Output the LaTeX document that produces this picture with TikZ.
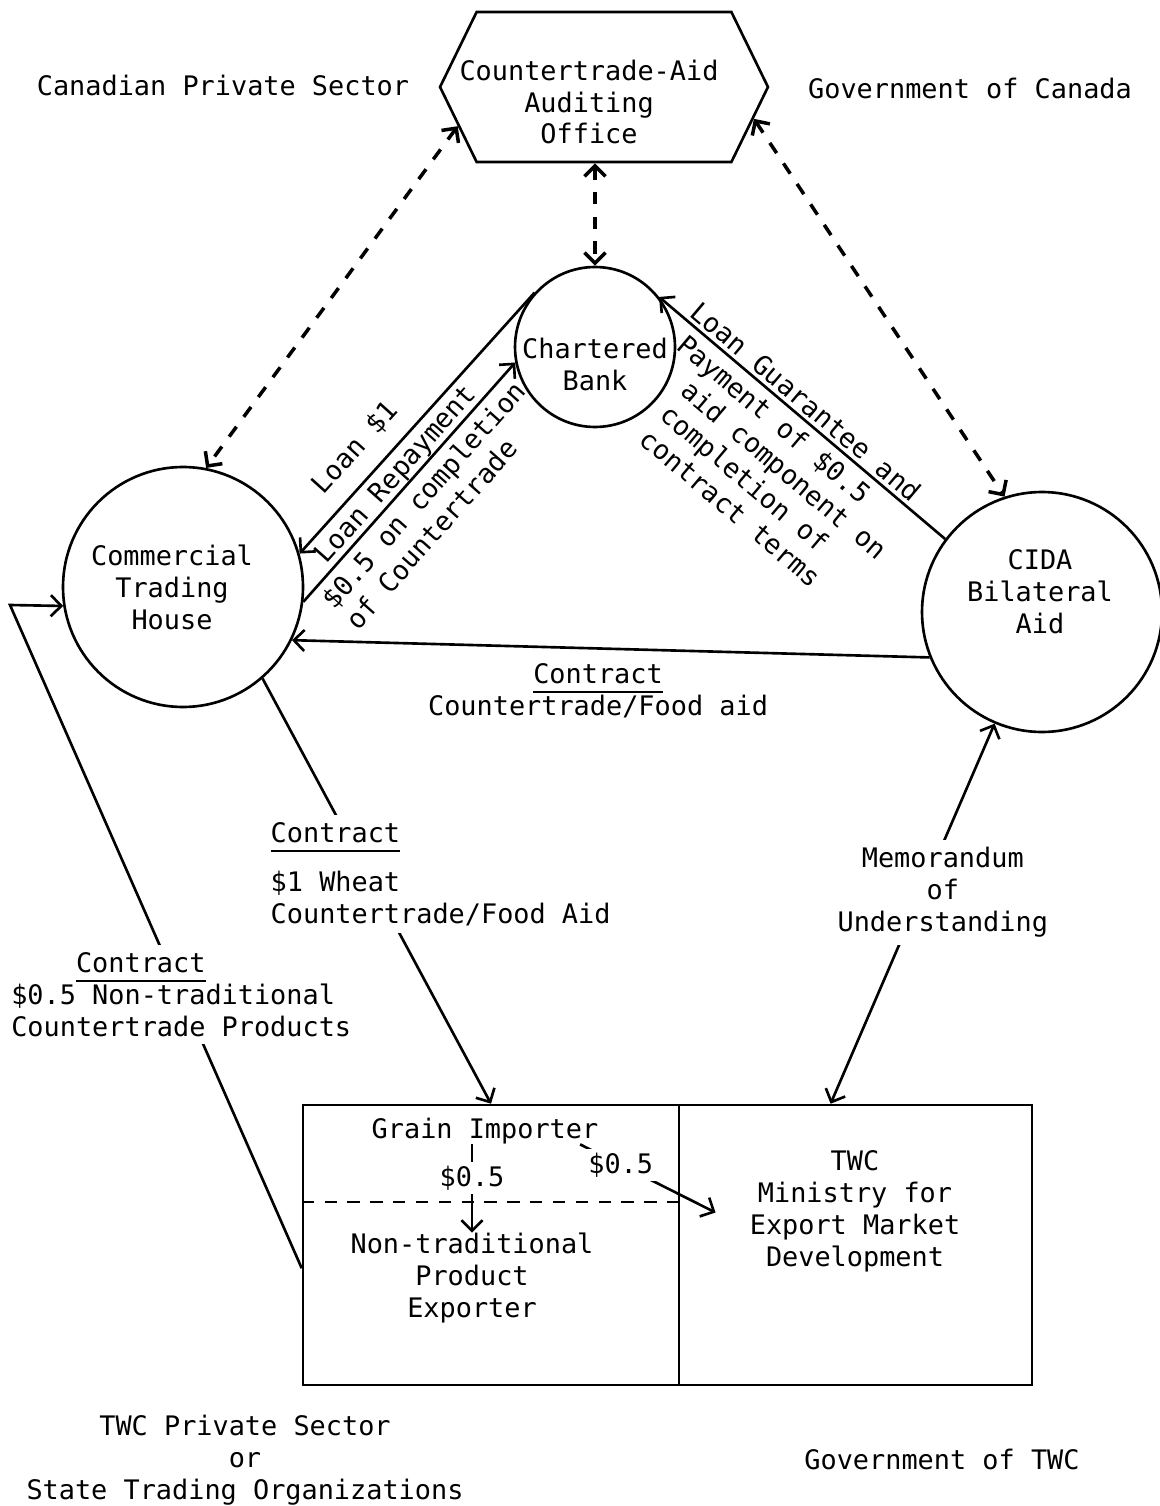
\documentclass[tikz,border=0pt]{standalone}
\usepackage{fontspec}
\setmainfont{DejaVu Sans Mono}
\usetikzlibrary{arrows.meta}
\usetikzlibrary{shapes.symbols}
\usetikzlibrary{calc}
\newcommand\undl[1]{\leavevmode\vtop{\hbox{#1}\kern4pt\hrule height 1.2pt}}
\tikzset{
  txt/.style={font=\fontsize{15.3}{18.2}\selectfont,align=center,inner sep=0},
  ln/.style={line width=1.5pt},
  hub/.style={draw,circle,line width=1.5pt,inner sep=0},
  office/.style={draw,line width=1.5pt,shape=signal,signal to=west and east,
    signal pointer angle=128,minimum width=6.56cm,minimum height=3cm,inner sep=0},
  boxcell/.style={draw,line width=1.5pt,minimum height=5.6cm},
  dsh/.style={line width=2pt,dash pattern=on 7pt off 7pt,<->},
  tag/.style={txt,sloped},
  blank/.style={txt,fill=white,inner sep=4pt}
}

\begin{document}
\begin{tikzpicture}[x=0.02cm,y=-0.02cm,>={Straight Barb[length=6pt,width=12pt]}]
    \useasboundingbox (0,0) rectangle (1159,1506);

    \node[office] (office) at (604,87) {};
    \node[txt] (officetxt) at (589,102) {Countertrade-Aid\\Auditing\\Office};
    \node[hub,minimum size=3.2cm] (bank) at (595,347) {};
    \node[txt] (banktxt) at (595,364) {Chartered\\Bank};
    \node[hub,minimum size=4.8cm] (cth) at (183,587) {};
    \node[txt] (cthtxt) at (172,587) {Commercial\\Trading\\House};
    \node[hub,minimum size=4.8cm] (cida) at (1042,612) {};
    \node[txt] (cidatxt) at (1040,592) {CIDA\\Bilateral\\Aid};
    \node[boxcell,minimum width=7.52cm] (tradecell) at (491,1245) {};
    \node[boxcell,minimum width=7.06cm] (govcell) at (855.5,1245) {};

    \node[txt] (cps) at (223,85) {Canadian Private Sector};
    \node[txt] (goc) at (970,88) {Government of Canada};
    \node[txt] (tps) at (245,1460) {TWC Private Sector\\or\\State Trading Organizations};
    \node[txt] (gotwc) at (942,1459) {Government of TWC};

    \node[txt] (grain) at (485,1131) {Grain Importer};
    \node[txt] (exporter) at (472,1278) {Non-traditional\\Product\\Exporter};
    \node[txt] (ministry) at (855,1211) {TWC\\Ministry for\\Export Market\\Development};
    \draw[line width=1.2pt,dash pattern=on 7pt off 6pt] ($(tradecell.west)+(0,-43)$) -- ($(tradecell.east)+(0,-43)$);
    \draw[ln,->] (grain.south -| exporter.north) -- node[blank,inner sep=2pt,pos=0.38]{\$0.5} (exporter.north);
    \draw[ln,->,shorten >=0.76cm] (grain.-8) -- node[blank,inner sep=2pt,pos=0.24]{\$0.5} (ministry.190);

    \draw[dsh] (office.195) -- (cth.79);
    \draw[dsh] (office.south -| bank.north) -- (bank.north);
    \draw[dsh] (office.348) -- (cida.108);

    \draw[ln,<-] (cth.16) -- node[tag,above=9pt,pos=0.33]{Loan \$1} (bank.138);
    \draw[ln,->] (cth.-7) -- node[tag,above=0pt,pos=0.49]{Loan Repayment}
      node[tag,below=4pt,pos=0.5,align=left]{\$0.5 on completion\\of Countertrade} (bank.191);
    \draw[ln,<-] (bank.38) -- node[tag,above=2pt,pos=0.48]{Loan Guarantee and}
      node[tag,below=4pt,pos=0.51,align=left]{Payment of \$0.5\\\hphantom{00}aid component on\\\hphantom{00}completion of\\\hphantom{00}contract terms} (cida.143);
    \draw[ln,->] (cida.202) -- node[txt,below=8pt,pos=0.52]{\undl{Contract}\\Countertrade/Food aid} (cth.-26);

    \draw[ln,->] (cth.-49) -- node[blank,align=left,pos=0.46,xshift=1.46cm]{\undl{Contract}\\[10pt]\$1 Wheat\\Countertrade/Food Aid} (tradecell.north);
    \coordinate (bend) at (10,605);
    \draw[ln,->] (tradecell.187) -- node[blank,align=left,pos=0.413]{\hphantom{\$0.5}\undl{Contract}\\\$0.5 Non-traditional\\Countertrade Products} (bend) -- (cth.189);
    \draw[ln,<->] (govcell.100) -- node[blank,pos=0.556,xshift=0.42cm]{Memorandum\\of\\Understanding} (cida.247);
\end{tikzpicture}
\end{document}
